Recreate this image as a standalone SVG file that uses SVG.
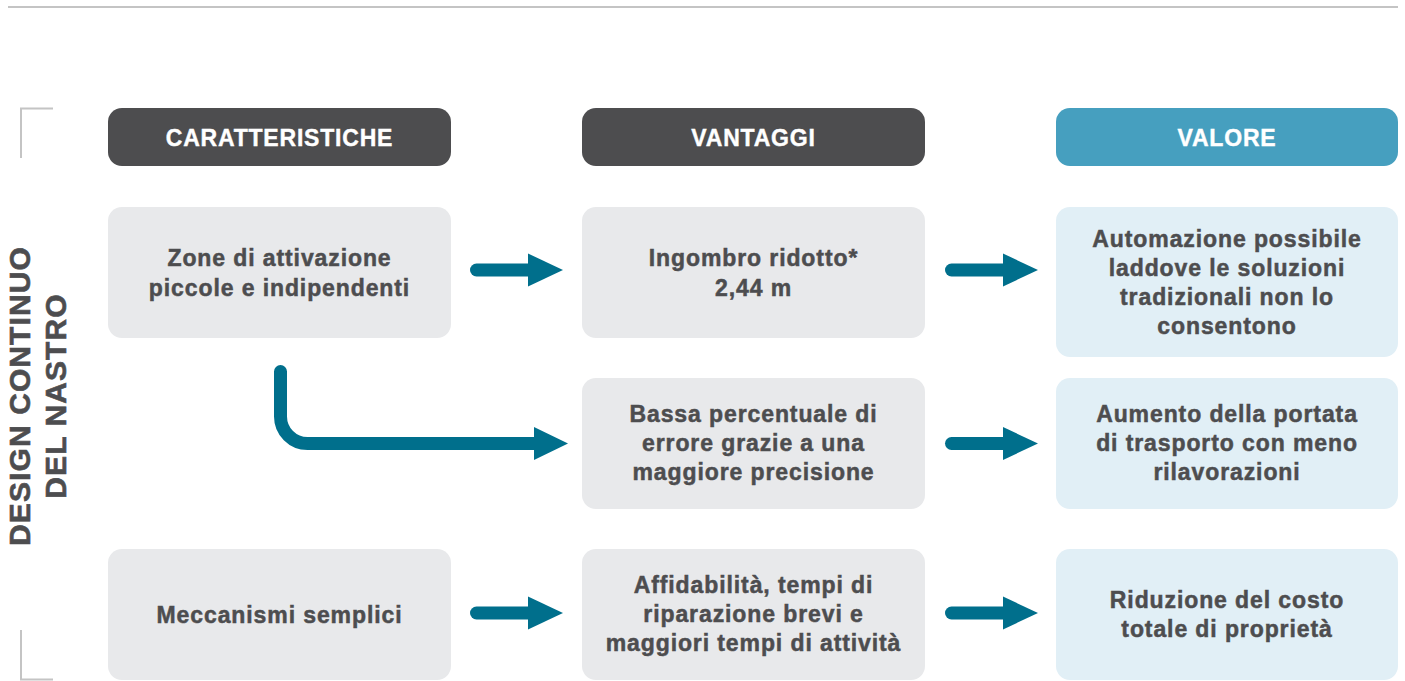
<svg xmlns="http://www.w3.org/2000/svg" width="1405" height="681" viewBox="0 0 1405 681">
<style>
.hdr{fill:#4d4d4f}
.hdrb{fill:#469fbf}
.box{fill:#e8e9eb}
.vbox{fill:#e1eff6}
.ht{font-family:"Liberation Sans",Arial,sans-serif;font-weight:bold;font-size:23px;fill:#ffffff;stroke:#ffffff;stroke-width:0.4px;text-anchor:middle;letter-spacing:0.8px}
.t{font-family:"Liberation Sans",Arial,sans-serif;font-weight:bold;font-size:23px;fill:#4d4d4f;stroke:#4d4d4f;stroke-width:0.5px;text-anchor:middle;letter-spacing:0.9px}
.side{font-family:"Liberation Sans",Arial,sans-serif;font-weight:bold;font-size:30px;fill:#4d4d4f;stroke:#4d4d4f;stroke-width:0.6px;text-anchor:middle;letter-spacing:1.1px}
.rule{stroke:#c4c4c4;stroke-width:2;fill:none}
.shaft{stroke:#006f8c;stroke-width:13;fill:none;stroke-linecap:round}
.head{fill:#006f8c}
</style>
<defs>
<g id="arr">
<path class="shaft" d="M6.5,0 H62"/>
<polygon class="head" points="58,-16.5 93,0 58,16.5"/>
</g>
</defs>
<rect width="1405" height="681" fill="#ffffff"/>
<g id="frame">
<line class="rule" x1="8" y1="7" x2="1398" y2="7"/>
<path class="rule" d="M21,158 V108.5 H53"/>
<path class="rule" d="M21,630 V679.5 H53"/>
</g>
<g id="side-label">
<text class="side" transform="translate(30,396) rotate(-90)">DESIGN CONTINUO</text>
<text class="side" transform="translate(66,396) rotate(-90)">DEL NASTRO</text>
</g>
<g id="h-caratteristiche">
<rect class="hdr" x="108" y="108" width="343" height="58" rx="14"/>
<text class="ht" x="279.5" y="145.5">CARATTERISTICHE</text>
</g>
<g id="h-vantaggi">
<rect class="hdr" x="582" y="108" width="343" height="58" rx="14"/>
<text class="ht" x="753.5" y="145.5">VANTAGGI</text>
</g>
<g id="h-valore">
<rect class="hdrb" x="1056" y="108" width="342" height="58" rx="14"/>
<text class="ht" x="1227" y="145.5">VALORE</text>
</g>
<g id="n-zone">
<rect class="box" x="108" y="207" width="343" height="131" rx="14"/>
<text class="t" x="279.5" y="266">Zone di attivazione</text>
<text class="t" x="279.5" y="296">piccole e indipendenti</text>
</g>
<g id="n-ingombro">
<rect class="box" x="582" y="207" width="343" height="131" rx="14"/>
<text class="t" x="753.5" y="266">Ingombro ridotto*</text>
<text class="t" x="753.5" y="296">2,44 m</text>
</g>
<g id="n-automazione">
<rect class="vbox" x="1056" y="207" width="342" height="150" rx="14"/>
<text class="t" x="1227" y="246.5">Automazione possibile</text>
<text class="t" x="1227" y="275.5">laddove le soluzioni</text>
<text class="t" x="1227" y="304.5">tradizionali non lo</text>
<text class="t" x="1227" y="333.5">consentono</text>
</g>
<g id="n-bassa">
<rect class="box" x="582" y="378" width="343" height="131" rx="14"/>
<text class="t" x="753.5" y="421.5">Bassa percentuale di</text>
<text class="t" x="753.5" y="450.5">errore grazie a una</text>
<text class="t" x="753.5" y="479.5">maggiore precisione</text>
</g>
<g id="n-aumento">
<rect class="vbox" x="1056" y="378" width="342" height="131" rx="14"/>
<text class="t" x="1227" y="421.5">Aumento della portata</text>
<text class="t" x="1227" y="450.5">di trasporto con meno</text>
<text class="t" x="1227" y="479.5">rilavorazioni</text>
</g>
<g id="n-meccanismi">
<rect class="box" x="108" y="549" width="343" height="131" rx="14"/>
<text class="t" x="279.5" y="623">Meccanismi semplici</text>
</g>
<g id="n-affidabilita">
<rect class="box" x="582" y="549" width="343" height="131" rx="14"/>
<text class="t" x="753.5" y="592.5">Affidabilità, tempi di</text>
<text class="t" x="753.5" y="621.5">riparazione brevi e</text>
<text class="t" x="753.5" y="650.5">maggiori tempi di attività</text>
</g>
<g id="n-riduzione">
<rect class="vbox" x="1056" y="549" width="342" height="131" rx="14"/>
<text class="t" x="1227" y="607.5">Riduzione del costo</text>
<text class="t" x="1227" y="636.5">totale di proprietà</text>
</g>
<g id="connectors">
<use href="#arr" x="470" y="270"/>
<use href="#arr" x="945" y="270"/>
<path class="shaft" d="M280.5,371.5 V416.5 A27,27 0 0 0 307.5,443.5 H538"/>
<polygon class="head" points="534,427 568,443.5 534,460"/>
<use href="#arr" x="945" y="443.5"/>
<use href="#arr" x="470" y="613"/>
<use href="#arr" x="945" y="613"/>
</g>
</svg>
